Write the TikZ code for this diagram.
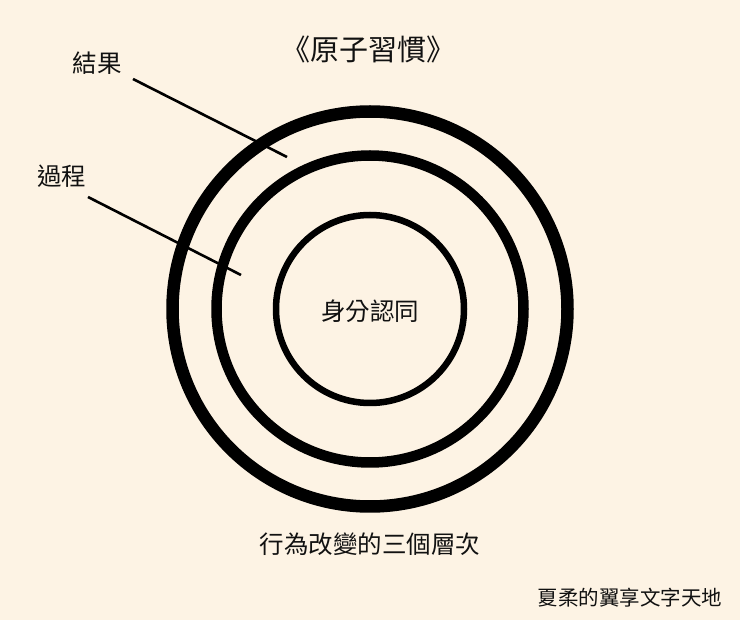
\documentclass[tikz,border=0pt]{standalone}
\usepackage{fontspec}
\setmainfont{Noto Sans CJK TC}
\definecolor{bg}{HTML}{FDF3E4}
\definecolor{ink}{HTML}{111111}
\tikzset{
  lbl/.style={font=\fontsize{24.5}{27}\selectfont, text=ink, inner sep=0pt},
  big/.style={font=\fontsize{29}{32}\selectfont, text=ink, inner sep=0pt},
  small/.style={font=\fontsize{20.5}{23}\selectfont, text=ink, inner sep=0pt},
  ring/.style={draw=black},
  pointer/.style={draw=black, line width=2.6pt}
}
\begin{document}
\begin{tikzpicture}[x=1pt,y=-1pt]
\fill[bg] (0,0) rectangle (740,620);
\useasboundingbox (0,0) rectangle (740,620);
\coordinate (c) at (370,309);
\draw[ring, line width=12.5pt] (c) circle[radius=197.5];
\draw[ring, line width=10.5pt] (c) circle[radius=153.5];
\draw[ring, line width=6.5pt] (c) circle[radius=94];
\node[big] (title) at (368.5,49) {《原子習慣》};
\node[lbl] (result) at (97,63) {結果};
\node[lbl] (process) at (62,176) {過程};
\node[lbl] (identity) at (370,311) {身分認同};
\node[lbl] (caption) at (370,544) {行為改變的三個層次};
\node[small] (credit) at (630,598) {夏柔的翼享文字天地};
\coordinate (r1) at (133,79);
\coordinate (r2) at (287,157);
\coordinate (p1) at (88,197);
\coordinate (p2) at (241,275);
\draw[pointer] (r1) -- (r2);
\draw[pointer] (p1) -- (p2);
\end{tikzpicture}
\end{document}
